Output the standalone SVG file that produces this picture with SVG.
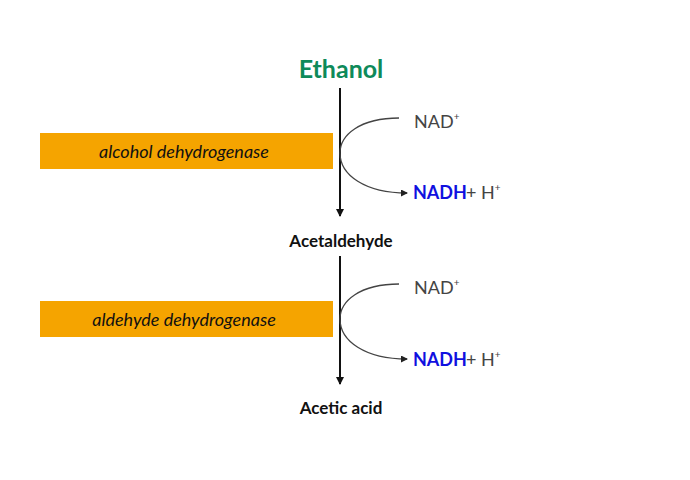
<svg xmlns="http://www.w3.org/2000/svg" width="690" height="480" viewBox="0 0 690 480">
<defs>
<marker id="ah" markerWidth="8" markerHeight="8" refX="7" refY="4" orient="auto" markerUnits="userSpaceOnUse"><path d="M0,0 L8,4 L0,8 Z" fill="#111"/></marker>
<marker id="ah2" markerWidth="7" markerHeight="7" refX="6" refY="3.5" orient="auto" markerUnits="userSpaceOnUse"><path d="M0,0 L7,3.5 L0,7 Z" fill="#222"/></marker>
</defs>
<style>
text{font-family:"Lato","Noto Sans",sans-serif}
.b{font-weight:bold;font-size:17px;fill:#111}
.enz{fill:#F5A400}
.et{font-style:italic;font-size:18px;fill:#111}
.nad{font-size:18px;fill:#444}
.nadh{font-size:18px;font-weight:bold;fill:#1010E0}
.main{stroke:#111;stroke-width:2;fill:none}
.side{stroke:#444;stroke-width:1.3;fill:none}
</style>
<rect width="690" height="480" fill="#fff"/>
<g id="ethanol"><text x="341" y="78" text-anchor="middle" style="font-weight:bold;font-size:25px;fill:#0E8A5A">Ethanol</text></g>
<g id="acetaldehyde"><text x="341" y="247" text-anchor="middle" class="b">Acetaldehyde</text></g>
<g id="acetic"><text x="341" y="414" text-anchor="middle" class="b">Acetic acid</text></g>
<g id="enz1"><rect class="enz" x="40" y="133" width="293" height="36"/><text x="184" y="158" text-anchor="middle" class="et">alcohol  dehydrogenase</text></g>
<g id="enz2"><rect class="enz" x="40" y="301" width="293" height="36"/><text x="184" y="326" text-anchor="middle" class="et">aldehyde dehydrogenase</text></g>
<g id="nad1"><text x="414" y="128" class="nad">NAD<tspan dy="-8" font-size="10">+</tspan></text></g>
<g id="nadh1"><text x="413" y="199" class="nadh">NADH</text><text x="466" y="199" class="nad">+ H<tspan dy="-8" font-size="10">+</tspan></text></g>
<g id="nad2"><text x="414" y="294" class="nad">NAD<tspan dy="-8" font-size="10">+</tspan></text></g>
<g id="nadh2"><text x="413" y="366" class="nadh">NADH</text><text x="466" y="366" class="nad">+ H<tspan dy="-8" font-size="10">+</tspan></text></g>
<g id="connectors">
<line class="main" x1="340" y1="88" x2="340" y2="216" marker-end="url(#ah)"/>
<line class="main" x1="340" y1="256" x2="340" y2="384" marker-end="url(#ah)"/>
<path class="side" d="M399,118 C360,118 340,135 340,153 C340,175 365,193 407,193" marker-end="url(#ah2)"/>
<path class="side" d="M399,284 C360,284 340,301 340,319 C340,341 365,359 407,359" marker-end="url(#ah2)"/>
</g>
</svg>
